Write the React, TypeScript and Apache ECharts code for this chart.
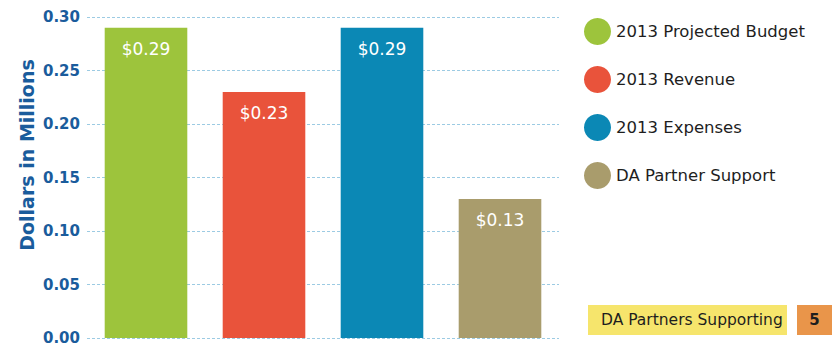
import React, { useEffect, useRef } from "react";
import * as echarts from "echarts";

const categories = ["2013 Projected Budget", "2013 Revenue", "2013 Expenses", "DA Partner Support"];
const values = [0.29, 0.23, 0.29, 0.13];
const colors = ["#9dc43c", "#e9533b", "#0b88b5", "#a99c6c"];
const yTicks = { min: 0, max: 0.3, interval: 0.05 };
const footerText = "DA Partners Supporting";
const footerNumber = "5";

export default function App() {
  const ref = useRef<HTMLDivElement>(null);
  useEffect(() => {
    document.body.style.margin = "0";
    const chart = echarts.init(ref.current!, null, { renderer: "svg" });
    const series = categories.map((name, i) => ({
      name,
      type: "bar",
      stack: "all",
      barWidth: "70%",
      data: values.map((v, j) => (j === i ? v : null)),
      itemStyle: { color: colors[i] },
      label: {
        show: true,
        position: "insideTop",
        distance: 13,
        color: "#ffffff",
        fontFamily: "DejaVu Sans",
        fontSize: 17,
        formatter: (p: any) => "$" + Number(p.value).toFixed(2),
      },
    }));
    chart.setOption({
      animation: false,
      backgroundColor: "#ffffff",
      grid: { left: 87, right: 278, top: 17, bottom: 9 },
      xAxis: {
        type: "category",
        data: categories,
        axisLine: { show: false },
        axisTick: { show: false },
        axisLabel: { show: false },
      },
      yAxis: {
        type: "value",
        min: yTicks.min,
        max: yTicks.max,
        interval: yTicks.interval,
        axisLine: { show: false },
        axisTick: { show: false },
        axisLabel: {
          margin: 7,
          color: "#1a5c9c",
          fontFamily: "DejaVu Sans",
          fontWeight: "bold",
          fontSize: 15,
          formatter: (v: number) => v.toFixed(2),
        },
        splitLine: { lineStyle: { color: "#9ccbe3", type: [3, 2], width: 1 } },
      },
      legend: {
        orient: "vertical",
        left: 579,
        top: 13,
        icon: "circle",
        itemWidth: 27,
        itemHeight: 27,
        itemGap: 21,
        textStyle: { color: "#1e1e1e", fontFamily: "DejaVu Sans", fontSize: 16.5 },
        data: categories,
      },
      graphic: [
        {
          type: "text",
          x: 27,
          y: 155,
          rotation: Math.PI / 2,
          style: {
            text: "Dollars in Millions",
            fill: "#1a5c9c",
            font: "bold 19px 'DejaVu Sans'",
            align: "center",
            verticalAlign: "middle",
          },
        },
        {
          type: "rect",
          shape: { x: 588, y: 305, width: 199, height: 30 },
          style: { fill: "#f6e56c" },
        },
        {
          type: "text",
          x: 601,
          y: 320,
          style: {
            text: footerText,
            fill: "#1e1e1e",
            font: "15.5px 'DejaVu Sans'",
            verticalAlign: "middle",
          },
        },
        {
          type: "rect",
          shape: { x: 797, y: 305, width: 35, height: 30 },
          style: { fill: "#e9954a" },
        },
        {
          type: "text",
          x: 814.5,
          y: 320,
          style: {
            text: footerNumber,
            fill: "#1e1e1e",
            font: "bold 15px 'DejaVu Sans'",
            align: "center",
            verticalAlign: "middle",
          },
        },
      ],
      series,
    });
    return () => chart.dispose();
  }, []);
  return <div ref={ref} style={{ width: 837, height: 347 }} />;
}
